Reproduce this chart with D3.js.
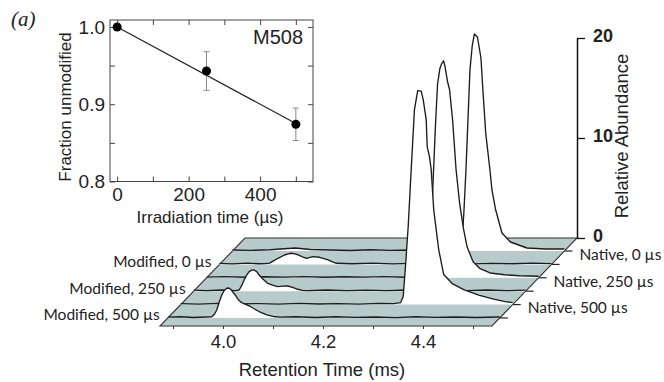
<!DOCTYPE html>
<html>
<head>
<meta charset="utf-8">
<script src="https://cdn.jsdelivr.net/npm/d3@7"></script>
<style>
  body { margin: 0; background: #fff; }
  svg { display: block; }
  text { font-family: 'Liberation Sans', Arial, sans-serif; fill: #222; }
</style>
</head>
<body>
<script>
// inset: fraction unmodified vs irradiation time
const irrTime = [0, 250, 500];
const fracUnmod = [1.0, 0.943, 0.874];
const fracErr = [0, 0.025, 0.021];
const fitTime = [0, 500];
const fitFrac = [1.0, 0.875];
const irrTicks = [0, 200, 400];
const irrMinor = [100, 300, 500];
const fracTicks = [0.8, 0.9, 1.0];
const fracMinor = [0.85, 0.95];

// chromatograms: [retention time (ms), relative abundance]
const modified500 = [
  [3.874, 0.08], [3.90, 0.12], [3.925, 0.05], [3.95, 0.1], [3.962, 0.12], [3.967, 0.35], [3.972, 0.8],
  [3.977, 1.6], [3.982, 2.3], [3.987, 2.75], [3.992, 2.97], [3.996, 3.0], [4.000, 2.87], [4.004, 2.6],
  [4.009, 2.3], [4.014, 1.9], [4.019, 1.63], [4.025, 1.45], [4.032, 1.3], [4.039, 1.15], [4.045, 0.97],
  [4.058, 0.6], [4.072, 0.3], [4.085, 0.15], [4.099, 0.08], [4.13, 0.12], [4.17, 0.05], [4.21, 0.12],
  [4.25, 0.06], [4.29, 0.1], [4.33, 0.04], [4.37, 0.12], [4.41, 0.06], [4.45, 0.1], [4.49, 0.05], [4.538, 0.1]
];
const native500 = [
  [3.874, 0.1], [3.91, 0.05], [3.95, 0.12], [3.99, 0.06], [4.03, 0.1], [4.07, 0.05], [4.11, 0.12],
  [4.15, 0.06], [4.19, 0.1], [4.23, 0.05], [4.27, 0.12], [4.30, 0.1], [4.314, 0.2], [4.319, 0.8],
  [4.323, 3.4], [4.329, 7.8], [4.335, 13.5], [4.3415, 19.5], [4.348, 21.4], [4.355, 21.35], [4.359, 20.5],
  [4.365, 18.5], [4.367, 15.8], [4.3715, 14.8], [4.375, 13.5], [4.38, 9.5], [4.39, 5.5], [4.40, 3.0],
  [4.417, 2.1], [4.44, 1.5], [4.47, 0.95], [4.50, 0.55], [4.523, 0.3], [4.538, 0.2]
];
const modified250 = [
  [3.874, 0.1], [3.90, 0.05], [3.93, 0.12], [3.958, 0.06], [3.965, 0.12], [3.970, 0.55], [3.975, 1.12],
  [3.980, 1.6], [3.985, 1.95], [3.990, 2.1], [3.995, 2.12], [4.000, 1.95], [4.005, 1.62], [4.013, 1.2],
  [4.022, 0.79], [4.032, 0.6], [4.042, 0.45], [4.052, 0.5], [4.062, 0.52], [4.072, 0.38], [4.082, 0.19],
  [4.092, 0.08], [4.102, 0.06], [4.14, 0.12], [4.18, 0.05], [4.22, 0.1], [4.26, 0.06], [4.30, 0.12],
  [4.34, 0.05], [4.38, 0.1], [4.42, 0.06], [4.46, 0.12], [4.50, 0.05], [4.538, 0.1]
];
const native250 = [
  [3.874, 0.06], [3.91, 0.12], [3.95, 0.05], [3.99, 0.1], [4.03, 0.06], [4.07, 0.12], [4.11, 0.05],
  [4.15, 0.1], [4.19, 0.06], [4.23, 0.12], [4.27, 0.05], [4.30, 0.1], [4.312, 0.15], [4.318, 0.7],
  [4.322, 3.5], [4.328, 10.8], [4.332, 15.5], [4.336, 19.4], [4.3405, 20.9], [4.3445, 21.45], [4.348, 21.7],
  [4.351, 21.1], [4.356, 19.6], [4.36, 18.8], [4.366, 15.8], [4.373, 10.8], [4.38, 7.5], [4.3875, 5.0],
  [4.395, 3.1], [4.407, 1.6], [4.42, 0.95], [4.441, 0.48], [4.47, 0.3], [4.50, 0.2], [4.538, 0.15]
];
const modified0 = [
  [3.874, 0.1], [3.90, 0.05], [3.93, 0.12], [3.955, 0.06], [3.965, 0.08], [3.974, 0.12], [3.982, 0.35],
  [3.991, 0.61], [4.004, 0.94], [4.011, 1.05], [4.018, 1.11], [4.025, 1.05], [4.031, 0.94], [4.04, 0.75],
  [4.048, 0.61], [4.055, 0.7], [4.061, 0.77], [4.074, 0.71], [4.083, 0.58], [4.091, 0.44], [4.10, 0.25],
  [4.108, 0.11], [4.14, 0.06], [4.18, 0.12], [4.22, 0.05], [4.26, 0.1], [4.30, 0.06], [4.34, 0.12],
  [4.38, 0.05], [4.42, 0.1], [4.46, 0.06], [4.50, 0.12], [4.538, 0.08]
];
const native0 = [
  [3.874, 0.1], [3.91, 0.06], [3.95, 0.12], [3.97, 0.2], [4.0, 0.3], [4.03, 0.15], [4.07, 0.1],
  [4.11, 0.05], [4.15, 0.12], [4.19, 0.06], [4.23, 0.1], [4.27, 0.05], [4.30, 0.12], [4.325, 0.1],
  [4.329, 0.2], [4.333, 0.8], [4.337, 4.0], [4.341, 8.1], [4.345, 13.1], [4.349, 18.1], [4.3535, 20.5],
  [4.358, 21.7], [4.364, 21.4], [4.371, 19.3], [4.3745, 16.4], [4.3805, 11.8], [4.389, 8.1], [4.393, 6.1],
  [4.40, 4.2], [4.413, 1.8], [4.43, 0.9], [4.463, 0.3], [4.50, 0.2], [4.538, 0.2]
];

// front to back
const traceNames = ['Modified, 500 \u00b5s', 'Native, 500 \u00b5s', 'Modified, 250 \u00b5s',
  'Native, 250 \u00b5s', 'Modified, 0 \u00b5s', 'Native, 0 \u00b5s'];
const traces = [modified500, native500, modified250, native250, modified0, native0];
const rtTicks = [4.0, 4.2, 4.4];
const rtMinor = [3.9, 4.1, 4.3, 4.5];
const abTicks = [0, 10, 20];
const rtRange = [3.874, 4.538];

const width = 664, height = 382;
const svg = d3.select('body').append('svg')
  .attr('width', width)
  .attr('height', height);

// ---------- waterfall ----------
const x = d3.scaleLinear().domain([3.9, 4.5]).range([173, 473]);
const lift = d3.scaleLinear().domain([-0.6, 5.97]).range([326, 238]);  // depth -> baseline y
const shift = d3.scaleLinear().domain([-0.6, 5.97]).range([0, 85]);   // depth -> x offset
const ab = d3.scaleLinear().domain([0, 20]).range([0, 200]);
const front = -0.6, back = 5.97;

const corner = (t, k) => [x(t) + shift(k), lift(k)];
const plane = [corner(rtRange[0], front), corner(rtRange[1], front),
  corner(rtRange[1], back), corner(rtRange[0], back)];

svg.append('path')
  .attr('d', 'M' + plane.join('L') + 'Z')
  .attr('fill', '#b8cbcb')
  .attr('stroke', '#333')
  .attr('stroke-width', 1.1);

const wf = svg.append('g');
for (let k = traces.length - 1; k >= 0; k--) {
  const area = d3.area()
    .x(d => x(d[0]) + shift(k))
    .y0(lift(k))
    .y1(d => lift(k) - ab(d[1]));
  const line = d3.line()
    .x(d => x(d[0]) + shift(k))
    .y(d => lift(k) - ab(d[1]));
  wf.append('path').attr('d', area(traces[k])).attr('fill', '#fff');
  wf.append('path').attr('d', line(traces[k]))
    .attr('fill', 'none')
    .attr('stroke', '#1c1c1c')
    .attr('stroke-width', 1.35)
    .attr('stroke-linejoin', 'round');

  // depth tick on the right edge
  const e = corner(rtRange[1], k);
  wf.append('line')
    .attr('x1', e[0]).attr('y1', e[1])
    .attr('x2', e[0] + 8).attr('y2', e[1])
    .attr('stroke', '#222').attr('stroke-width', 1.2);

  const isNative = traceNames[k].startsWith('Native');
  const a = corner(isNative ? rtRange[1] : rtRange[0], k);
  wf.append('text')
    .attr('x', isNative ? a[0] + 15 : a[0] - 8)
    .attr('y', isNative ? a[1] + 3.5 : a[1] - 3)
    .attr('dy', '0.35em')
    .attr('text-anchor', isNative ? 'start' : 'end')
    .style('font-family', 'Lato, sans-serif')
    .style('font-size', '15.5px')
    .text(traceNames[k]);
}

// front edge ticks + labels
const xAxis = svg.append('g')
  .attr('transform', 'translate(0,' + lift(front) + ')')
  .call(d3.axisBottom(x).tickValues(rtTicks).tickSize(3).tickPadding(6).tickSizeOuter(0)
    .tickFormat(d3.format('.1f')));
xAxis.select('.domain').remove();
xAxis.selectAll('text').style('font-size', '18.5px').attr('fill', '#222');
const xMinor = svg.append('g')
  .attr('transform', 'translate(0,' + lift(front) + ')')
  .call(d3.axisBottom(x).tickValues(rtMinor).tickSize(3).tickFormat(''));
xMinor.select('.domain').remove();
svg.selectAll('.tick line').attr('stroke', '#333');

svg.append('text')
  .attr('x', 322).attr('y', 370).attr('dy', '0.35em')
  .attr('text-anchor', 'middle')
  .style('font-size', '18.5px')
  .text('Retention Time (ms)');

// vertical abundance axis at the back-right corner
const axX = corner(rtRange[1], back)[0];
const yAb = d3.scaleLinear().domain([0, 20]).range([lift(back), lift(back) - ab(20)]);
const yAxis = svg.append('g')
  .attr('transform', 'translate(' + axX + ',0)')
  .call(d3.axisRight(yAb).tickValues(abTicks).tickSize(8).tickPadding(8).tickSizeOuter(0));
yAxis.select('.domain').attr('stroke', '#111').attr('stroke-width', 1.5);
yAxis.selectAll('.tick line').attr('stroke', '#111').attr('stroke-width', 1.3);
yAxis.selectAll('text')
  .attr('dy', '0.18em')
  .style('font-size', '18px').style('font-weight', 'bold').attr('fill', '#111');

svg.append('text')
  .attr('transform', 'translate(622,136) rotate(-90)')
  .attr('dy', '0.35em')
  .attr('text-anchor', 'middle')
  .style('font-size', '18.5px')
  .text('Relative Abundance');

// ---------- inset ----------
const xi = d3.scaleLinear().domain([-20, 548]).range([110, 313]);
const yi = d3.scaleLinear().domain([0.8, 1.009]).range([181.5, 20]);
const inset = svg.append('g');

inset.append('rect')
  .attr('x', xi.range()[0]).attr('y', yi.range()[1])
  .attr('width', xi.range()[1] - xi.range()[0])
  .attr('height', yi.range()[0] - yi.range()[1])
  .attr('fill', 'none').attr('stroke', '#444').attr('stroke-width', 1);

function insetAxis(axis, tr, vals, fmt) {
  const g = inset.append('g').attr('transform', tr)
    .call(axis.tickValues(vals).tickSize(-5).tickSizeOuter(0).tickFormat(fmt));
  g.select('.domain').remove();
  g.selectAll('.tick line').attr('stroke', '#444');
  g.selectAll('text').style('font-size', '19px').attr('fill', '#222');
  return g;
}
const bottomTr = 'translate(0,' + yi.range()[0] + ')';
const topTr = 'translate(0,' + yi.range()[1] + ')';
const leftTr = 'translate(' + xi.range()[0] + ',0)';
const rightTr = 'translate(' + xi.range()[1] + ',0)';
insetAxis(d3.axisBottom(xi).tickPadding(6), bottomTr, irrTicks, d3.format('d'));
insetAxis(d3.axisBottom(xi), bottomTr, irrMinor, '');
insetAxis(d3.axisTop(xi), topTr, irrTicks.concat(irrMinor), '');
insetAxis(d3.axisLeft(yi).tickPadding(5), leftTr, fracTicks, d3.format('.1f'));
insetAxis(d3.axisLeft(yi), leftTr, fracMinor, '');
insetAxis(d3.axisRight(yi), rightTr, fracTicks.concat(fracMinor), '');

// fit line
inset.append('path')
  .attr('d', d3.line().x(d => xi(d[0])).y(d => yi(d[1]))(d3.zip(fitTime, fitFrac)))
  .attr('stroke', '#222').attr('stroke-width', 1.2).attr('fill', 'none');

// error bars + points
const pts = d3.zip(irrTime, fracUnmod, fracErr);
const eb = inset.selectAll('g.eb').data(pts.filter(d => d[2] > 0)).join('g').attr('class', 'eb')
  .attr('stroke', '#888').attr('stroke-width', 1);
eb.append('line')
  .attr('x1', d => xi(d[0])).attr('x2', d => xi(d[0]))
  .attr('y1', d => yi(d[1] - d[2])).attr('y2', d => yi(d[1] + d[2]));
eb.append('line')
  .attr('x1', d => xi(d[0]) - 3).attr('x2', d => xi(d[0]) + 3)
  .attr('y1', d => yi(d[1] - d[2])).attr('y2', d => yi(d[1] - d[2]));
eb.append('line')
  .attr('x1', d => xi(d[0]) - 3).attr('x2', d => xi(d[0]) + 3)
  .attr('y1', d => yi(d[1] + d[2])).attr('y2', d => yi(d[1] + d[2]));

inset.selectAll('circle').data(pts).join('circle')
  .attr('cx', d => xi(d[0])).attr('cy', d => yi(d[1]))
  .attr('r', 4.5).attr('fill', '#000');

inset.append('text')
  .attr('x', 303).attr('y', 37).attr('dy', '0.36em')
  .attr('text-anchor', 'end')
  .style('font-size', '20px')
  .text('M508');

inset.append('text')
  .attr('transform', 'translate(65,107) rotate(-90)')
  .attr('dy', '0.35em')
  .attr('text-anchor', 'middle')
  .style('font-size', '17px')
  .text('Fraction unmodified');

inset.append('text')
  .attr('x', 210).attr('y', 217).attr('dy', '0.35em')
  .attr('text-anchor', 'middle')
  .style('font-size', '17px')
  .text('Irradiation time (\u00b5s)');

svg.append('text')
  .attr('x', 11).attr('y', 26)
  .style('font-family', "'Liberation Serif', serif")
  .style('font-style', 'italic')
  .style('font-size', '21px')
  .text('(a)');
</script>
</body>
</html>
